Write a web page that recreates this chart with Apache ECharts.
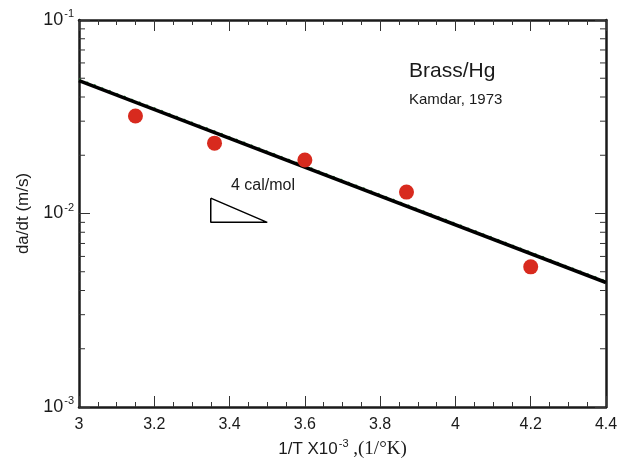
<!DOCTYPE html>
<html>
<head>
<meta charset="utf-8">
<script src="https://cdn.jsdelivr.net/npm/echarts@6/dist/echarts.min.js"></script>
<style>
  html, body { margin: 0; padding: 0; background: #fff; }
  #chart { width: 631px; height: 466px; }
</style>
</head>
<body>
<div id="chart"></div>
<script>
// Crack growth rate vs. reciprocal temperature (Brass in Hg)
const invT = [3.15, 3.36, 3.60, 3.87, 4.20];           // 1/T x 10^-3
const rate = [0.0319, 0.0231, 0.0189, 0.0129, 0.0053];  // da/dt, m/s

// Arrhenius fit line (end points)
const fitX = [3.0, 4.4];
const fitY = [0.0486, 0.0044];
// Companion dashed fit, drawn just beneath the solid one
const fit2Y = [0.0495, 0.00448];

// Activation-energy slope triangle
const triX = [3.35, 3.35, 3.50, 3.35];
const triY = [0.0120, 0.0090, 0.0090, 0.0120];

// Axis ranges
const xMin = 3.0, xMax = 4.4, xStep = 0.2;
const yMin = 0.001, yMax = 0.1;

// Minor log ticks (2..9 within each decade)
const logMinor = [];
for (let d = yMin; d < yMax; d *= 10) {
  for (let k = 2; k <= 9; k++) logMinor.push([xMin, +(k * d).toPrecision(3)]);
}

const ink = '#1a1a1a';
const sans = 'Liberation Sans, Arial, Helvetica, sans-serif';

const chart = echarts.init(document.getElementById('chart'), null, { renderer: 'canvas' });

const xCommon = {
  type: 'value', min: xMin, max: xMax, interval: xStep,
  axisLine: { show: true, onZero: false, lineStyle: { color: ink, width: 2.5 } },
  axisTick: { show: true, inside: true, length: 11, lineStyle: { color: '#333', width: 1 } },
  minorTick: { show: true, splitNumber: 4, length: 5, lineStyle: { color: '#333', width: 1 } },
  splitLine: { show: false },
  minorSplitLine: { show: false }
};
const yCommon = {
  type: 'log', logBase: 10, min: yMin, max: yMax,
  axisLine: { show: true, onZero: false, lineStyle: { color: ink, width: 2.5 } },
  axisTick: { show: true, inside: true, length: 11, lineStyle: { color: '#333', width: 1 } },
  splitLine: { show: false }
};

chart.setOption({
  backgroundColor: '#fff',
  animation: false,
  grid: { left: 79, top: 20, right: 25, bottom: 59, containLabel: false },
  xAxis: [
    Object.assign({}, xCommon, {
      position: 'bottom',
      axisLabel: {
        show: true, margin: 10, color: ink, fontSize: 16, fontFamily: sans,
        formatter: v => String(+v.toFixed(1))
      },
      name: '{a|1/T X10}{s|-3}{c| ,(1/°K)}',
      nameLocation: 'middle',
      nameGap: 31,
      nameTextStyle: {
        rich: {
          a: { fontSize: 17, fontFamily: sans, color: ink },
          s: { fontSize: 11, fontFamily: sans, color: ink, padding: [0, 0, 12, 1] },
          c: { fontSize: 19, fontFamily: 'Liberation Serif, Times New Roman, serif', color: ink }
        }
      }
    }),
    Object.assign({}, xCommon, { position: 'top', axisLabel: { show: false } })
  ],
  yAxis: [
    Object.assign({}, yCommon, {
      position: 'left',
      axisLabel: {
        show: true, margin: 5, color: ink,
        formatter: v => '{b|10}{s|' + Math.round(Math.log10(v)) + '}',
        rich: {
          b: { fontSize: 18, fontFamily: sans, color: ink },
          s: { fontSize: 11, fontFamily: sans, color: ink, padding: [0, 0, 12, 1] }
        }
      },
      name: 'da/dt (m/s)',
      nameLocation: 'middle',
      nameGap: 45,
      nameRotate: 90,
      nameTextStyle: { fontSize: 17, fontFamily: sans, color: ink }
    }),
    Object.assign({}, yCommon, { position: 'right', axisLabel: { show: false } })
  ],
  series: [
    {
      // minor ticks of the logarithmic axes, left and right
      type: 'custom',
      silent: true,
      clip: false,
      data: logMinor,
      encode: { x: 0, y: 1 },
      renderItem: (params, api) => {
        const v = api.value(1);
        const pL = api.coord([xMin, v]);
        const pR = api.coord([xMax, v]);
        return {
          type: 'group',
          children: [
            { type: 'line', shape: { x1: pL[0], y1: pL[1], x2: pL[0] + 6, y2: pL[1] },
              style: { stroke: '#333', lineWidth: 1 } },
            { type: 'line', shape: { x1: pR[0], y1: pR[1], x2: pR[0] - 6, y2: pR[1] },
              style: { stroke: '#333', lineWidth: 1 } }
          ]
        };
      },
      z: 1
    },
    {
      type: 'line',
      data: fitX.map((x, i) => [x, fit2Y[i]]),
      symbol: 'none',
      lineStyle: { color: '#3a9a4a', width: 1.5, type: [2, 6] },
      silent: true,
      z: 2
    },
    {
      type: 'line',
      data: fitX.map((x, i) => [x, fitY[i]]),
      symbol: 'none',
      lineStyle: { color: '#000', width: 3.5 },
      silent: true,
      z: 3
    },
    {
      type: 'line',
      data: triX.map((x, i) => [x, triY[i]]),
      symbol: 'none',
      lineStyle: { color: '#000', width: 1.5 },
      silent: true,
      z: 3
    },
    {
      type: 'scatter',
      data: invT.map((x, i) => [x, rate[i]]),
      symbol: 'circle',
      symbolSize: 15,
      itemStyle: { color: '#d82a1e', opacity: 1 },
      z: 4
    }
  ],
  graphic: [
    { type: 'text', left: 409, top: 61, silent: true,
      style: { text: 'Brass/Hg', fontSize: 21, fontFamily: sans, fill: ink } },
    { type: 'text', left: 409, top: 92, silent: true,
      style: { text: 'Kamdar, 1973', fontSize: 15, fontFamily: sans, fill: ink } },
    { type: 'text', left: 231, top: 178, silent: true,
      style: { text: '4 cal/mol', fontSize: 16, fontFamily: sans, fill: ink } }
  ]
});
</script>
</body>
</html>
